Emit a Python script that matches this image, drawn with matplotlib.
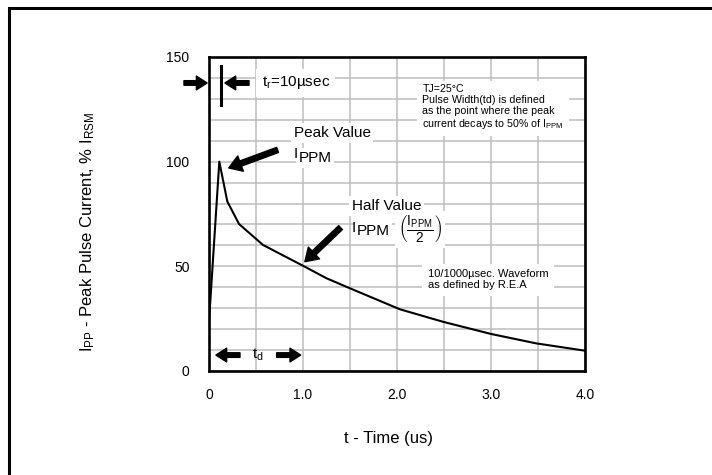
import numpy as np
import matplotlib
matplotlib.use("Agg")
import matplotlib.pyplot as plt
from matplotlib.patches import Rectangle

plt.rcParams["font.family"] = ["Liberation Sans", "DejaVu Sans"]
plt.rcParams["mathtext.fontset"] = "custom"
plt.rcParams["mathtext.rm"] = "Liberation Sans"
plt.rcParams["mathtext.it"] = "Liberation Sans:italic"

# 10/1000 usec pulse waveform
time_us = [0, 0.11, 0.195, 0.32, 0.575, 1.02, 1.25, 1.5, 2.03, 2.49, 3.0, 3.48, 4.0]
pulse_pct = [23.5, 100, 81, 70.2, 60.2, 49.8, 44.3, 39.5, 29.5, 23.5, 17.7, 13.2, 9.7]

x_ticks = [0, 1, 2, 3, 4]
x_tick_labels = ["0", "1.0", "2.0", "3.0", "4.0"]
y_ticks = [0, 50, 100, 150]

fig = plt.figure(figsize=(7.12, 4.75), dpi=100)
ax = fig.add_axes([0.2935, 0.219, 0.528, 0.661])

ax.plot(time_us, pulse_pct, color="black", lw=1.5, zorder=2)

ax.set_xlim(0, 4)
ax.set_ylim(0, 150)
ax.set_xticks(np.arange(0, 4.01, 0.5), minor=True)
ax.set_yticks(np.arange(0, 151, 10), minor=True)
ax.set_xticks(x_ticks)
ax.set_xticklabels(x_tick_labels)
ax.set_yticks(y_ticks)
ax.grid(True, which="both", color="#bdbdbd", lw=1.1)
ax.set_axisbelow(True)
ax.tick_params(which="both", length=0, labelsize=10)
ax.tick_params(axis="x", pad=12)
ax.tick_params(axis="y", pad=14)
for sp in ax.spines.values():
    sp.set_linewidth(1.9)

# axis titles
fig.text(389 / 712, 1 - 438 / 475, "t - Time (us)", ha="center", va="center", fontsize=12)
fig.text(88 / 712, 1 - 232 / 475,
         r"I$_\mathregular{PP}$ - Peak Pulse Current, % I$_\mathregular{RSM}$",
         rotation=90, ha="center", va="center", fontsize=12)

# outer frame of the figure
fig.add_artist(Rectangle((9 / 712, -0.2), 1.2, 1.2 - 8 / 475, transform=fig.transFigure,
                         fill=False, ec="black", lw=2.2))

white = dict(facecolor="white", edgecolor="none", pad=2)


def block_arrow(tail, tip, size=1.0):
    style = "simple,head_length=%.1f,head_width=%.1f,tail_width=%.1f" % (
        7 * size, 9 * size, 3 * size)
    ax.annotate("", xy=tip, xytext=tail, annotation_clip=False,
                arrowprops=dict(arrowstyle=style, mutation_scale=1, fc="black",
                                ec="black", shrinkA=0, shrinkB=0))


def i_ppm(x, y):
    ax.annotate("PPM", xy=(x, y), xytext=(3.5, -2.5), textcoords="offset points",
                fontsize=11, va="center", bbox=white, zorder=3)
    ax.text(x, y, "I", fontsize=11, va="center", zorder=4)


# rise time marker
block_arrow((-0.266, 137.6), (-0.02, 137.6), 1.1)
block_arrow((0.426, 137.6), (0.17, 137.6), 1.1)
ax.plot([0.128, 0.128], [127, 145.5], color="black", lw=2.2, zorder=4)
ax.text(0.56, 137.6, r"t$_\mathregular{r}$=10µsec", fontsize=11, va="center",
        bbox=dict(facecolor="white", edgecolor="none", pad=4))

# peak value
ax.text(0.9, 113.7, "Peak Value", fontsize=11, va="center", bbox=white)
i_ppm(0.9, 103.5)
block_arrow((0.73, 105.6), (0.21, 97), 1.3)

# note box
ax.text(2.27, 137, "TJ=25°C\nPulse Width(td) is defined\nas the point where the peak\n"
        r"current decays to 50% of I$_\mathregular{PPM}$",
        fontsize=7.7, va="top", linespacing=1.1,
        bbox=dict(facecolor="white", edgecolor="none", pad=4))

# half value
ax.text(1.52, 78.8, "Half Value", fontsize=11, va="center", bbox=white)
i_ppm(1.52, 68.5)
ax.text(2.01, 67.5, r"$\left(\frac{\mathregular{I_{PPM}}}{\mathregular{2}}\right)$",
        fontsize=14, va="center", bbox=white)
block_arrow((1.40, 68.5), (1.02, 52.2), 1.3)

# waveform note
ax.text(2.33, 48.5, "10/1000µsec. Waveform\nas defined by R.E.A", fontsize=8,
        va="top", linespacing=1.1, bbox=dict(facecolor="white", edgecolor="none", pad=4))

# pulse width marker
block_arrow((0.33, 7.6), (0.074, 7.6), 1.1)
block_arrow((0.72, 7.6), (0.976, 7.6), 1.1)
ax.text(0.46, 7.6, r"t$_\mathregular{d}$", fontsize=11, va="center")

fig.savefig("out.png", dpi=100)
